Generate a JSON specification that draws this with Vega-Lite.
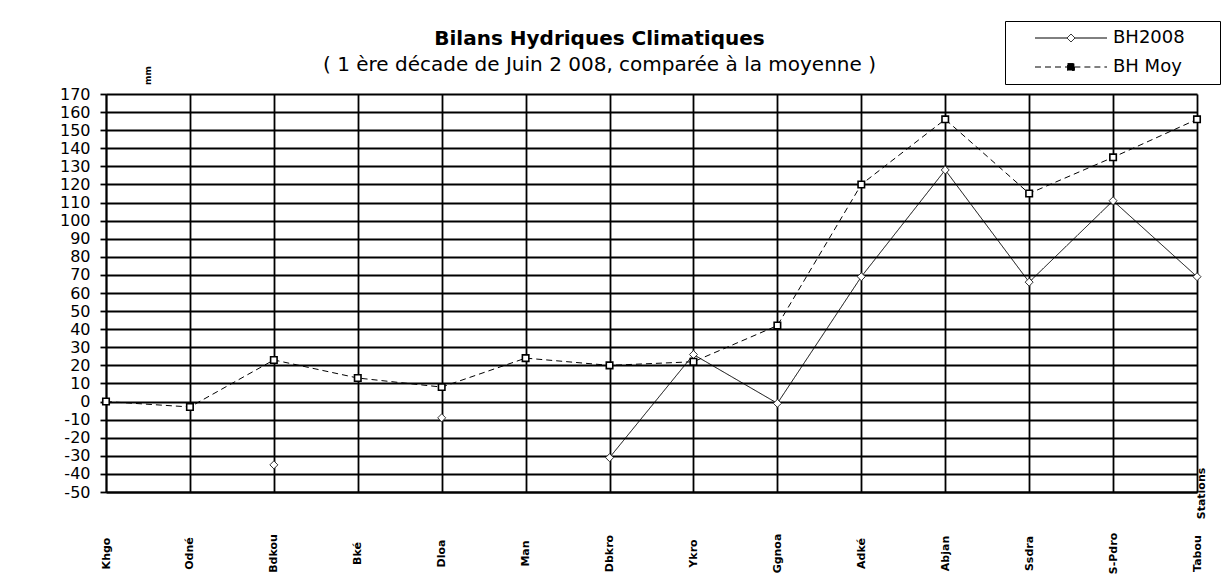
{
  "$schema": "https://vega.github.io/schema/vega-lite/v6.json",
  "autosize": "none",
  "width": 1091,
  "height": 398,
  "padding": {"left": 106, "top": 94, "right": 24, "bottom": 89},
  "background": "white",
  "title": {
    "text": "Bilans Hydriques Climatiques",
    "subtitle": "( 1 ère décade de Juin 2 008, comparée à la moyenne )",
    "anchor": "middle",
    "dx": -52,
    "font": "DejaVu Sans",
    "fontSize": 20,
    "fontWeight": "bold",
    "color": "black",
    "subtitleFont": "DejaVu Sans",
    "subtitleFontSize": 20,
    "subtitleColor": "black",
    "subtitlePadding": 6,
    "offset": -54
  },
  "data": {
    "values": [
      {"station": "Khgo", "series": "BH2008", "value": null},
      {"station": "Odné", "series": "BH2008", "value": null},
      {"station": "Bdkou", "series": "BH2008", "value": -35},
      {"station": "Bké", "series": "BH2008", "value": null},
      {"station": "Dloa", "series": "BH2008", "value": -9},
      {"station": "Man", "series": "BH2008", "value": null},
      {"station": "Dbkro", "series": "BH2008", "value": -31},
      {"station": "Ykro", "series": "BH2008", "value": 26},
      {"station": "Ggnoa", "series": "BH2008", "value": -1},
      {"station": "Adké", "series": "BH2008", "value": 69},
      {"station": "Abjan", "series": "BH2008", "value": 128},
      {"station": "Ssdra", "series": "BH2008", "value": 66},
      {"station": "S-Pdro", "series": "BH2008", "value": 111},
      {"station": "Tabou", "series": "BH2008", "value": 69},
      {"station": "Khgo", "series": "BH Moy", "value": 0},
      {"station": "Odné", "series": "BH Moy", "value": -3},
      {"station": "Bdkou", "series": "BH Moy", "value": 23},
      {"station": "Bké", "series": "BH Moy", "value": 13},
      {"station": "Dloa", "series": "BH Moy", "value": 8},
      {"station": "Man", "series": "BH Moy", "value": 24},
      {"station": "Dbkro", "series": "BH Moy", "value": 20},
      {"station": "Ykro", "series": "BH Moy", "value": 22},
      {"station": "Ggnoa", "series": "BH Moy", "value": 42},
      {"station": "Adké", "series": "BH Moy", "value": 120},
      {"station": "Abjan", "series": "BH Moy", "value": 156},
      {"station": "Ssdra", "series": "BH Moy", "value": 115},
      {"station": "S-Pdro", "series": "BH Moy", "value": 135},
      {"station": "Tabou", "series": "BH Moy", "value": 156}
    ]
  },
  "encoding": {
    "x": {
      "field": "station",
      "type": "ordinal",
      "sort": null,
      "scale": {"type": "point", "padding": 0},
      "axis": {
        "title": "Stations",
        "titleFont": "DejaVu Sans",
        "titleFontSize": 11,
        "titleFontWeight": "bold",
        "titleColor": "black",
        "titleAngle": 270,
        "titleAlign": "center",
        "titleBaseline": "middle",
        "titleX": 1095,
        "titleY": 1,
        "labelAngle": 270,
        "labelAlign": "center",
        "labelBaseline": "middle",
        "labelPadding": 61,
        "labelFont": "DejaVu Sans",
        "labelFontSize": 11,
        "labelFontWeight": "bold",
        "labelColor": "black",
        "ticks": false,
        "grid": true,
        "gridColor": "black",
        "gridWidth": 1.8,
        "gridOpacity": 1,
        "domainColor": "black",
        "domainWidth": 1.8
      }
    },
    "y": {
      "field": "value",
      "type": "quantitative",
      "scale": {"domain": [-50, 170], "nice": false},
      "axis": {
        "title": "mm",
        "titleFont": "DejaVu Sans",
        "titleFontSize": 9,
        "titleFontWeight": "bold",
        "titleColor": "black",
        "titleAngle": 270,
        "titleAlign": "center",
        "titleBaseline": "middle",
        "titleX": 41,
        "titleY": -19,
        "values": [-50, -40, -30, -20, -10, 0, 10, 20, 30, 40, 50, 60, 70, 80, 90, 100, 110, 120, 130, 140, 150, 160, 170],
        "labelExpr": "'' + datum.value",
        "labelFont": "DejaVu Sans",
        "labelFontSize": 16,
        "labelColor": "black",
        "labelPadding": 10,
        "labelOverlap": false,
        "labelFlush": false,
        "tickSize": 6,
        "tickColor": "black",
        "tickWidth": 1.8,
        "grid": true,
        "gridColor": "black",
        "gridWidth": 1.8,
        "gridOpacity": 1,
        "domainColor": "black",
        "domainWidth": 1.8
      }
    }
  },
  "layer": [
    {
      "mark": {"type": "line", "color": "black", "strokeWidth": 1, "invalid": "break-paths-filter-domains"},
      "encoding": {
        "strokeDash": {
          "field": "series",
          "type": "nominal",
          "scale": {"domain": ["BH2008", "BH Moy"], "range": [[1, 0], [6, 4]]},
          "legend": {
            "title": null,
            "orient": "none",
            "legendX": 899,
            "legendY": -73,
            "direction": "vertical",
            "strokeColor": "black",
            "fillColor": "white",
            "padding": 8,
            "rowPadding": 11,
            "symbolType": "M3.25,0H21.25",
            "symbolSize": 64,
            "symbolStrokeColor": "black",
            "symbolFillColor": "white",
            "symbolStrokeWidth": 1,
            "labelFont": "DejaVu Sans",
            "labelFontSize": 18,
            "labelColor": "black",
            "labelOffset": 82,
            "labelExpr": "datum.label + '\u2800\u2800'",
            "encode": {
              "symbols": {
                "update": {
                  "shape": {"signal": "datum.value === 'BH2008' ? 'M3.25,0H11.25M13.25,0H21.25M12.25,-1L13.25,0L12.25,1L11.25,0Z' : 'M3.25,0H11.4M13.1,0H21.25M11.4,-0.85H13.1V0.85H11.4Z'"},
                  "fill": {"signal": "datum.value === 'BH2008' ? 'white' : 'black'"},
                  "stroke": {"value": "black"},
                  "strokeWidth": {"value": 1},
                  "strokeDash": {"signal": "datum.value === 'BH2008' ? [1, 0] : [6, 4]"},
                  "opacity": {"value": 1}
                }
              }
            }
          }
        }
      }
    },
    {
      "transform": [{"filter": "datum.series === 'BH2008'"}],
      "mark": {"type": "point", "shape": "diamond", "size": 64, "filled": true, "fill": "white", "stroke": "#333333", "strokeWidth": 1, "opacity": 1}
    },
    {
      "transform": [{"filter": "datum.series === 'BH Moy'"}],
      "mark": {"type": "point", "shape": "square", "size": 42, "filled": true, "fill": "white", "stroke": "black", "strokeWidth": 1.6, "opacity": 1}
    }
  ]
}
